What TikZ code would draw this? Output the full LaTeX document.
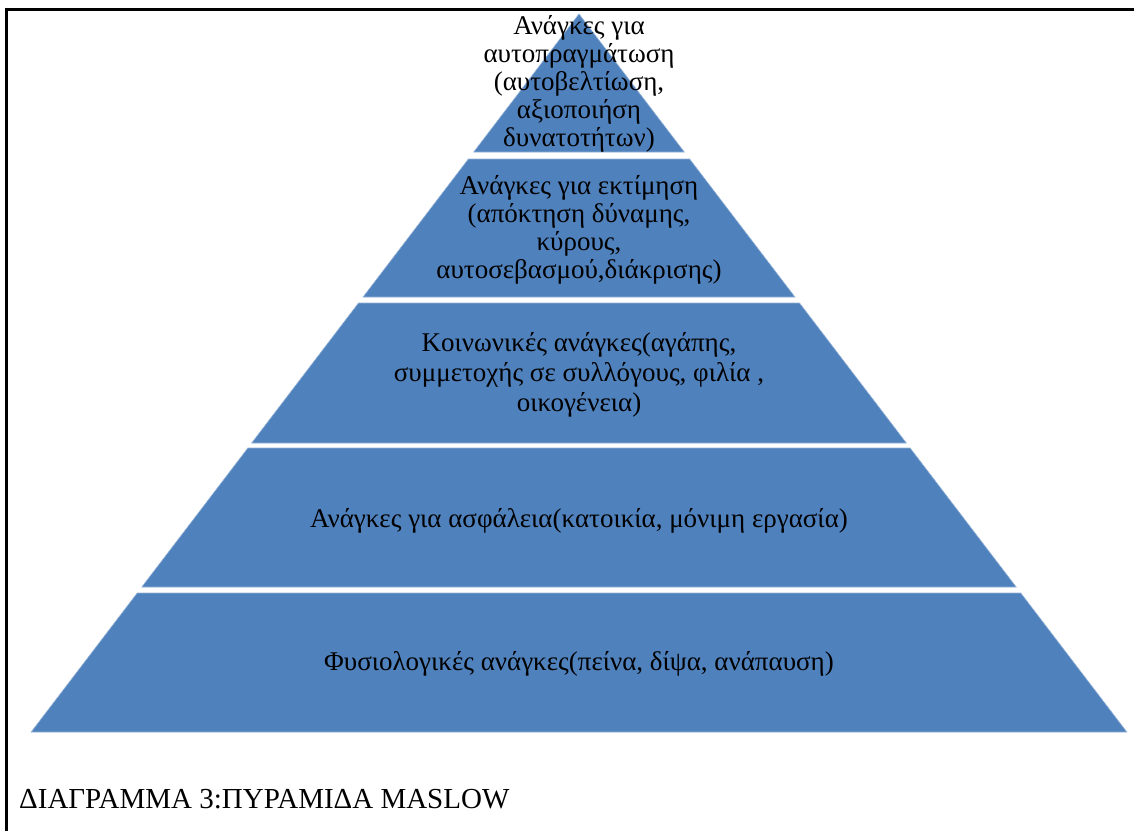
\documentclass[tikz,border=0pt]{standalone}
\usepackage{fontspec}
\setmainfont{Liberation Serif}
\definecolor{pyrblue}{HTML}{4F81BD}
\begin{document}
\begin{tikzpicture}[x=1pt,y=-1pt,
  band/.style={fill=pyrblue,draw=pyrblue!60!white,line width=0.6pt},
  label/.style={align=center,text=black,font=\fontsize{27}{28}\selectfont,inner sep=0pt},
  frameline/.style={line width=3pt,black}]
\useasboundingbox (0,0) rectangle (1134,831);
% outer frame (top and left edges)
\draw[frameline] (6,9) -- (1134,9);
\draw[frameline] (6,7.5) -- (6,831);
% pyramid bands: apex at (579,14), half width grows 0.763 per unit of depth
\foreach \t/\b in {14/152,159/297,303/443,448/587,593/732}{
  \pgfmathsetmacro{\wt}{0.763*(\t-14)}
  \pgfmathsetmacro{\wb}{0.763*(\b-14)}
  \filldraw[band] (579-\wt,\t) -- (579+\wt,\t) -- (579+\wb,\b) -- (579-\wb,\b) -- cycle;
}
% level texts
\node[label] (self) at (579,84) {Ανάγκες για\\αυτοπραγμάτωση\\(αυτοβελτίωση,\\αξιοποιήση\\δυνατοτήτων)};
\node[label] (esteem) at (579,230) {Ανάγκες για εκτίμηση\\(απόκτηση δύναμης,\\κύρους,\\αυτοσεβασμού,διάκρισης)};
\node[label,font=\fontsize{27}{30}\selectfont] (social) at (579,375) {Κοινωνικές ανάγκες(αγάπης,\\συμμετοχής σε συλλόγους, φιλία ,\\οικογένεια)};
\node[label] (safety) at (579,521) {Ανάγκες για ασφάλεια(κατοικία, μόνιμη εργασία)};
\node[label] (physio) at (579,664) {Φυσιολογικές ανάγκες(πείνα, δίψα, ανάπαυση)};
% caption
\node[anchor=base west,inner sep=0pt,font=\fontsize{29}{34}\selectfont] (caption) at (19,808) {ΔΙΑΓΡΑΜΜΑ 3:ΠΥΡΑΜΙΔΑ MASLOW};
\end{tikzpicture}
\end{document}
